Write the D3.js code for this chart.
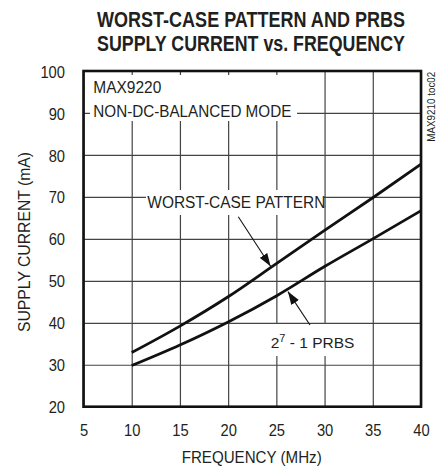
<!DOCTYPE html>
<html>
<head>
    <script src="https://cdnjs.cloudflare.com/ajax/libs/d3/7.8.5/d3.min.js"></script>
    <style>
      body { margin: 0; background: #fff; }
      svg text { font-family: "Liberation Sans", Arial, sans-serif; fill: #231f20; }
    </style>
</head>
<body>
    <svg id="chart" width="438" height="471"></svg>
    <script>
      // values
      const freq = [10, 15, 20, 25, 30, 35, 40]
      const worstCase = [32.9, 39.2, 46.2, 54.1, 62.0, 69.8, 77.8]
      const prbs = [29.8, 34.7, 40.2, 46.4, 53.4, 60.0, 66.7]
      const xTicks = [5, 10, 15, 20, 25, 30, 35, 40]
      const yTicks = [20, 30, 40, 50, 60, 70, 80, 90, 100]

      const mLeft = 83.5, mRight = 421, mTop = 71, mBottom = 406.7
      const w = mRight - mLeft, h = mBottom - mTop

      const svg = d3.select('#chart')
      const g = svg.append('g').attr('transform', 'translate(' + mLeft + ',' + mTop + ')')

      const x = d3.scaleLinear().domain([5, 40]).range([0, w])
      const y = d3.scaleLinear().domain([20, 100]).range([h, 0])

      // squeeze text a bit, the original type is narrower than Arial
      function squeeze(sel, k) {
        sel.each(function() {
          let len = this.getComputedTextLength()
          d3.select(this).attr('textLength', len * k).attr('lengthAdjust', 'spacingAndGlyphs')
        })
      }
      function fit(sel, len) {
        sel.attr('textLength', len).attr('lengthAdjust', 'spacingAndGlyphs')
      }

      // grid + tick labels
      let xAxis = g.append('g')
        .attr('transform', 'translate(0,' + h + ')')
        .call(d3.axisBottom(x).tickValues(xTicks).tickSize(-h).tickPadding(17.9).tickFormat(d3.format('d')))
      let yAxis = g.append('g')
        .call(d3.axisLeft(y).tickValues(yTicks).tickSize(-w).tickPadding(18.5).tickFormat(d3.format('d')))

      ;[xAxis, yAxis].forEach(a => {
        a.attr('font-family', null).attr('font-size', null)
        a.select('.domain').remove()
        a.selectAll('line').attr('stroke', '#444').attr('stroke-width', 1.2)
        a.selectAll('text').attr('font-size', 16).attr('fill', '#231f20')
      })
      yAxis.selectAll('text').attr('dy', '0.38em')
      squeeze(xAxis.selectAll('text'), 0.92)
      squeeze(yAxis.selectAll('text'), 0.92)

      // white boxes behind the in-plot labels
      const boxes = [
        [90 - mLeft, 75 - mTop, 207, 46],
        [146 - mLeft, 190 - mTop, 178, 25],
        [268 - mLeft, 324 - mTop, 88, 32]
      ]
      g.selectAll('rect.box').data(boxes).enter().append('rect')
        .attr('class', 'box')
        .attr('x', d => d[0]).attr('y', d => d[1])
        .attr('width', d => d[2]).attr('height', d => d[3])
        .attr('fill', '#fff')

      // curves
      const line = d3.line()
        .x((d, i) => x(freq[i]))
        .y(d => y(d))
        .curve(d3.curveMonotoneX)

      g.selectAll('path.series').data([worstCase, prbs]).enter().append('path')
        .attr('class', 'series')
        .attr('d', line)
        .attr('fill', 'none')
        .attr('stroke', '#111')
        .attr('stroke-width', 2.8)

      // frame
      g.append('rect')
        .attr('width', w).attr('height', h)
        .attr('fill', 'none')
        .attr('stroke', '#111')
        .attr('stroke-width', 2.6)

      // arrows
      svg.append('defs').append('marker')
        .attr('id', 'head')
        .attr('viewBox', '0 0 13 9')
        .attr('refX', 13).attr('refY', 4.5)
        .attr('markerWidth', 13).attr('markerHeight', 9)
        .attr('markerUnits', 'userSpaceOnUse')
        .attr('orient', 'auto')
        .append('path').attr('d', 'M0,0L13,4.5L0,9Z').attr('fill', '#111')

      g.append('line')
        .attr('x1', 238.3 - mLeft).attr('y1', 216.7 - mTop)
        .attr('x2', x(24.4)).attr('y2', y(53.1) - 1.5)
        .attr('stroke', '#111').attr('stroke-width', 1.1)
        .attr('marker-end', 'url(#head)')
      g.append('line')
        .attr('x1', 310 - mLeft).attr('y1', 325 - mTop)
        .attr('x2', x(26.2)).attr('y2', y(47.9) + 2)
        .attr('stroke', '#111').attr('stroke-width', 1.1)
        .attr('marker-end', 'url(#head)')

      // labels in the plot
      g.append('text').attr('x', 93.3 - mLeft).attr('y', 93 - mTop).attr('font-size', 16)
        .text('MAX9220').call(fit, 68)
      g.append('text').attr('x', 93.3 - mLeft).attr('y', 117 - mTop).attr('font-size', 16)
        .text('NON-DC-BALANCED MODE').call(fit, 198)
      g.append('text').attr('x', 147.3 - mLeft).attr('y', 208 - mTop).attr('font-size', 16)
        .text('WORST-CASE PATTERN').call(fit, 178)

      let prbsLabel = g.append('text').attr('x', 270.7 - mLeft).attr('y', 348.3 - mTop).attr('font-size', 15.5)
      prbsLabel.append('tspan').text('2')
      prbsLabel.append('tspan').attr('font-size', 11).attr('dy', -6).text('7')
      prbsLabel.append('tspan').attr('dy', 6).text(' - 1 PRBS')

      // titles, scaled horizontally to the narrow bold face of the original
      const titles = ['WORST-CASE PATTERN AND PRBS', 'SUPPLY CURRENT vs. FREQUENCY']
      titles.forEach((t, i) => {
        let tg = svg.append('g').attr('transform', 'translate(251,' + (26.7 + i * 23.8) + ')')
        let tx = tg.append('text').attr('text-anchor', 'middle')
          .attr('font-size', 21.5).attr('font-weight', 'bold').text(t)
        let k = 308 / tx.node().getComputedTextLength()
        tx.attr('transform', 'scale(' + k + ',1)')
      })

      svg.append('text').attr('x', 251.7).attr('y', 463).attr('text-anchor', 'middle')
        .attr('font-size', 16).text('FREQUENCY (MHz)').call(fit, 140)
      svg.append('text').attr('transform', 'translate(30,242) rotate(-90)').attr('text-anchor', 'middle')
        .attr('font-size', 16).text('SUPPLY CURRENT (mA)').call(fit, 180)
      svg.append('text').attr('transform', 'translate(435,141.7) rotate(-90)')
        .attr('font-size', 10).text('MAX9210 toc02').call(fit, 70)
    </script>
</body>
</html>
